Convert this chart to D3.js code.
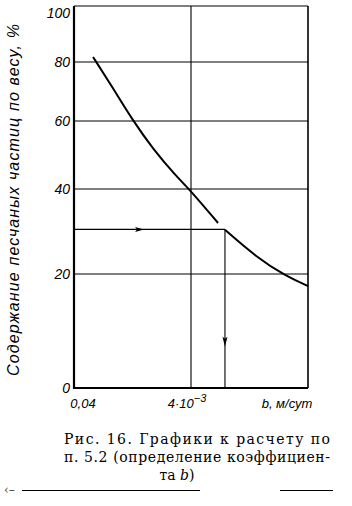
<!DOCTYPE html>
<html>
<head>
<meta charset="utf-8">
<script src="https://cdn.jsdelivr.net/npm/d3@7"></script>
<style>
  body { margin: 0; background: #fff; }
  svg { display: block; }
  .cap { font-family: "DejaVu Serif", "Liberation Serif", serif; }
</style>
</head>
<body>
<div id="canvas"></div>
<script>
"use strict"
let svgWidth = 352;
let svgHeight = 506;

// axis values
let yTicks = [0, 20, 40, 60, 80, 100];
let yTickPixels = [388, 274, 189, 121, 62, 6];   // uneven scale of the original paper
let xDomain = [0.04, 0.0004];
let xTicks = [0.04, 0.004];
let xTickLabels = ["0,04", "4·10"];
let gridY = [20, 40, 60, 80, 100];
let gridX = [0.004];

// curve (b, m/day ; % by weight)
let curveUpperB = [0.0275, 0.0186, 0.0125, 0.00845, 0.00537, 0.00408, 0.00235];
let curveUpperP = [81.8, 71.2, 60, 51.8, 43.8, 39.8, 32];
let curveLowerB = [0.00205, 0.00111, 0.000617, 0.0004];
let curveLowerP = [30.4, 24.0, 19.6, 17.9];

// reading of the example
let readLevel = 30.5;
let readB = 0.00205;
let arrowRightAt = 0.0109;
let arrowDownAt = 8.1;

let captionLines = ["Рис. 16. Графики к расчету по", "п. 5.2 (определение коэффициен-"];

let svg = d3.select("#canvas")
    .append("svg")
    .attr("width", svgWidth)
    .attr("height", svgHeight);

let xScale = d3.scaleLog()
    .domain(xDomain)
    .range([74, 308]);

let yScale = d3.scaleLinear()
    .domain(yTicks)
    .range(yTickPixels);

let plotLeft = xScale(xDomain[0]);
let plotRight = xScale(xDomain[1]);
let plotBottom = yScale(0);
let plotTop = yScale(100);

// grid
svg.selectAll(".gy")
    .data(gridY)
    .join("line")
    .attr("x1", plotLeft).attr("x2", plotRight)
    .attr("y1", d => yScale(d)).attr("y2", d => yScale(d))
    .attr("stroke", "black")
    .attr("stroke-width", 1.1);

svg.selectAll(".gx")
    .data(gridX)
    .join("line")
    .attr("x1", d => xScale(d)).attr("x2", d => xScale(d))
    .attr("y1", plotTop).attr("y2", plotBottom)
    .attr("stroke", "black")
    .attr("stroke-width", 1.1);

// right border
svg.append("line")
    .attr("x1", plotRight).attr("x2", plotRight)
    .attr("y1", plotTop).attr("y2", plotBottom)
    .attr("stroke", "black")
    .attr("stroke-width", 1.6);

// axes
svg.append("line")
    .attr("x1", plotLeft).attr("x2", plotLeft)
    .attr("y1", plotTop).attr("y2", plotBottom + 1)
    .attr("stroke", "black")
    .attr("stroke-width", 2.2);

svg.append("line")
    .attr("x1", plotLeft).attr("x2", plotRight)
    .attr("y1", plotBottom).attr("y2", plotBottom)
    .attr("stroke", "black")
    .attr("stroke-width", 2);

// reading lines
svg.append("line")
    .attr("x1", plotLeft).attr("x2", xScale(readB))
    .attr("y1", yScale(readLevel)).attr("y2", yScale(readLevel))
    .attr("stroke", "black")
    .attr("stroke-width", 1.1);

svg.append("line")
    .attr("x1", xScale(readB)).attr("x2", xScale(readB))
    .attr("y1", yScale(readLevel)).attr("y2", plotBottom)
    .attr("stroke", "black")
    .attr("stroke-width", 1.1);

let ax = xScale(arrowRightAt);
let ay = yScale(readLevel);
svg.append("path")
    .attr("d", "M" + (ax + 4) + "," + ay + " L" + (ax - 5) + "," + (ay - 2.5) + " L" + (ax - 3) + "," + ay + " L" + (ax - 5) + "," + (ay + 2.5) + "Z")
    .attr("fill", "black");

let dx = xScale(readB);
let dy = yScale(arrowDownAt);
svg.append("path")
    .attr("d", "M" + dx + "," + (dy + 5) + " L" + (dx - 2.5) + "," + (dy - 5) + " L" + dx + "," + (dy - 3) + " L" + (dx + 2.5) + "," + (dy - 5) + "Z")
    .attr("fill", "black");

// curve
let line = d3.line()
    .x(d => xScale(d[0]))
    .y(d => yScale(d[1]))
    .curve(d3.curveBasis);

svg.append("path")
    .attr("d", line(d3.zip(curveUpperB, curveUpperP)))
    .attr("fill", "none")
    .attr("stroke", "black")
    .attr("stroke-width", 2);

svg.append("path")
    .attr("d", line(d3.zip(curveLowerB, curveLowerP)))
    .attr("fill", "none")
    .attr("stroke", "black")
    .attr("stroke-width", 2);

// tick labels
let labelFont = "'Liberation Sans', 'DejaVu Sans', sans-serif";

svg.selectAll(".yl")
    .data(yTicks)
    .join("text")
    .attr("x", plotLeft - 4)
    .attr("y", d => Math.max(yScale(d), 13))
    .attr("text-anchor", "end")
    .attr("dominant-baseline", "central")
    .attr("font-family", labelFont)
    .attr("font-style", "italic")
    .attr("font-size", 14)
    .text(d => d);

svg.selectAll(".xl")
    .data(xTicks)
    .join("text")
    .attr("x", (d, i) => xScale(d) + (i == 0 ? 9 : -4))
    .attr("y", 408)
    .attr("text-anchor", "middle")
    .attr("font-family", labelFont)
    .attr("font-style", "italic")
    .attr("font-size", 13)
    .each(function(d, i) {
        let t = d3.select(this);
        t.append("tspan").text(xTickLabels[i]);
        if (i == 1) {
            t.append("tspan").attr("dy", -6).attr("font-size", 11).text("−3");
        }
    });

svg.append("text")
    .attr("x", 287)
    .attr("y", 408)
    .attr("text-anchor", "middle")
    .attr("font-family", labelFont)
    .attr("font-style", "italic")
    .attr("font-size", 13)
    .text("b, м/сут");

svg.append("text")
    .attr("transform", "translate(19,200) rotate(-90)")
    .attr("text-anchor", "middle")
    .attr("font-family", labelFont)
    .attr("font-style", "italic")
    .attr("font-size", 16)
    .attr("textLength", 352)
    .attr("lengthAdjust", "spacing")
    .text("Содержание песчаных частиц по весу, %");

// caption
for (let i = 0; i < captionLines.length; i++) {
    svg.append("text")
        .attr("class", "cap")
        .attr("x", 64)
        .attr("y", 444 + i * 18)
        .attr("font-size", 14)
        .attr("textLength", 266)
        .attr("lengthAdjust", "spacing")
        .text(captionLines[i]);
}

let last = svg.append("text")
    .attr("class", "cap")
    .attr("x", 177)
    .attr("y", 480)
    .attr("text-anchor", "middle")
    .attr("font-size", 14);
last.append("tspan").text("та  ");
last.append("tspan").attr("font-style", "italic").text("b");
last.append("tspan").text(")");

// rule under the caption
svg.append("text")
    .attr("class", "cap")
    .attr("x", 4)
    .attr("y", 494)
    .attr("font-size", 12)
    .attr("fill", "#444")
    .text("‹–");

svg.append("line")
    .attr("x1", 22).attr("x2", 200)
    .attr("y1", 490.5).attr("y2", 490.5)
    .attr("stroke", "black")
    .attr("stroke-width", 1);

svg.append("line")
    .attr("x1", 280).attr("x2", 333)
    .attr("y1", 490.5).attr("y2", 490.5)
    .attr("stroke", "black")
    .attr("stroke-width", 1);
</script>
</body>
</html>
